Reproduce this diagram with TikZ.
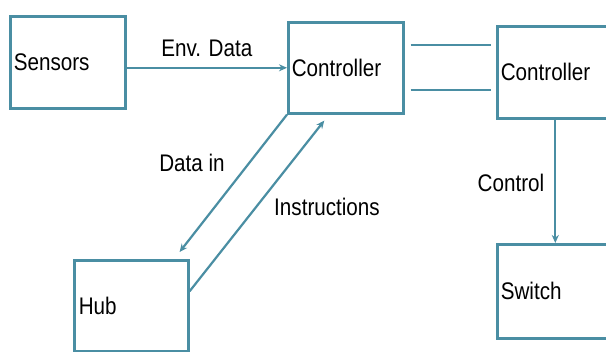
\documentclass[tikz,border=0pt]{standalone}
\usepackage{fontspec}
\setmainfont{Liberation Sans}[FakeStretch=0.86]
\usetikzlibrary{arrows.meta}
\definecolor{tealc}{RGB}{74,142,163}
\tikzset{
  box/.style={draw=tealc, line width=2.6pt, anchor=north west, inner xsep=3.5pt, inner ysep=0pt, align=left,
    font=\fontsize{24}{28}\selectfont, text=black},
  conn/.style={draw=tealc, line width=2.2pt},
  arr/.style={conn, -{Stealth[length=8pt,width=7pt]}},
  lbl/.style={font=\fontsize{24}{28}\selectfont, text=black, inner sep=0pt}
}
\begin{document}
\begin{tikzpicture}[x=1pt,y=1pt]
\clip (0,0) rectangle (606,-352);
\fill[white] (0,0) rectangle (606,-352);
\node[box, text width=108pt, minimum height=92pt] (sensors) at (9,-15) {Sensors};
\node[box, text width=108pt, minimum height=91pt] (ctrl1) at (287,-21) {Controller};
\node[box, text width=109pt, minimum height=92pt] (ctrl2) at (496,-25) {Controller};
\node[box, text width=109pt, minimum height=94pt] (switch) at (496,-243) {Switch};
\node[box, inner xsep=4.5pt, text width=105pt, minimum height=91pt] (hub) at (73,-259) {Hub};

\draw[arr] (sensors.east |- ctrl1.west) -- (ctrl1.west) node[lbl, midway, above=10pt] (envlbl) {Env. Data};
\draw[conn, shorten >=5pt] ([xshift=6pt,yshift=22.5pt]ctrl1.east) coordinate (la) -- (la -| ctrl2.west);
\draw[conn, shorten >=5pt] ([xshift=6pt,yshift=-22.5pt]ctrl1.east) coordinate (lb) -- (lb -| ctrl2.west);
\draw[arr] (ctrl1.south west) -- ([xshift=-10pt,yshift=7pt]hub.north east);
\draw[arr] ([yshift=14.5pt]hub.east) -- ([xshift=-21.5pt,yshift=-6pt]ctrl1.south);
\draw[arr] (ctrl2.south) -- (switch.north);

\node[lbl] (datain) at (192,-163) {Data in};
\node[lbl] (instr) at (327,-207) {Instructions};
\node[lbl] (ctrllbl) at (511,-183) {Control};
\end{tikzpicture}
\end{document}
